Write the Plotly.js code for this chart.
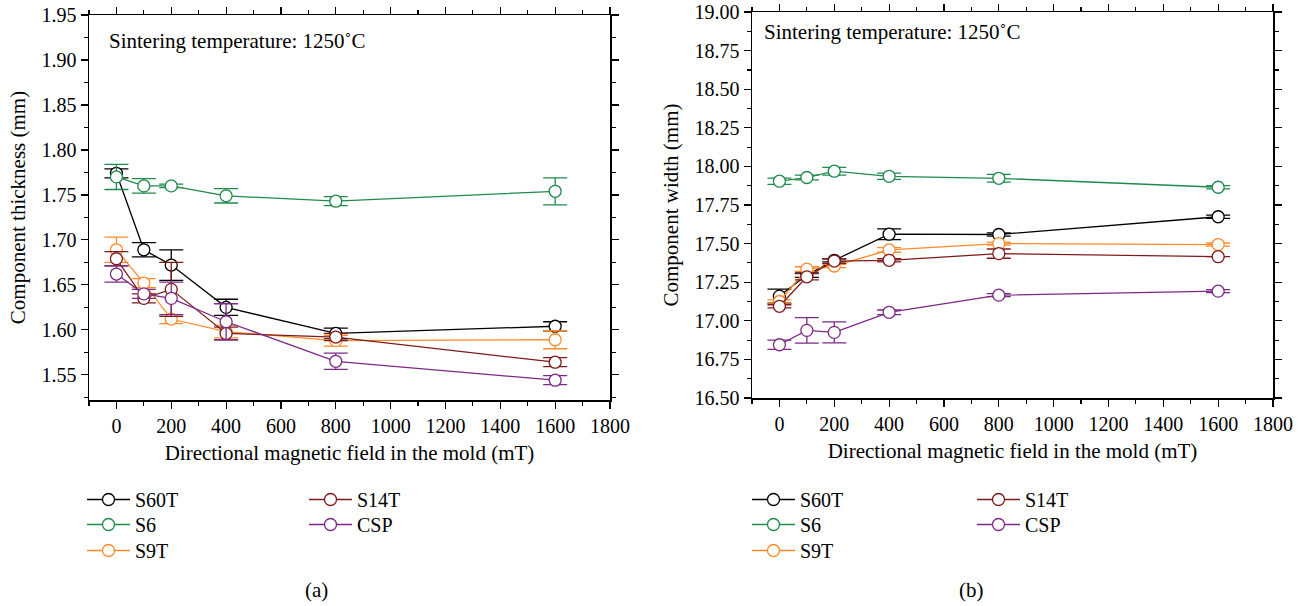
<!DOCTYPE html>
<html>
<head>
<meta charset="utf-8">
<script src="https://cdn.plot.ly/plotly-3.0.1.min.js"></script>
<style>html,body{margin:0;padding:0;background:#fff;}#chart{width:1306px;height:606px;}</style>
</head>
<body>
<div id="chart"></div>
<script>
// ---- data ----
const fieldMT = [0, 100, 200, 400, 800, 1600];
const seriesNames = ['S60T', 'S6', 'S9T', 'S14T', 'CSP'];

// (a) component thickness (mm)
const thickS60T = [1.774, 1.689, 1.672, 1.625, 1.596, 1.604];
const thickS60TErr = [0.005, 0.008, 0.017, 0.009, 0.006, 0.005];
const thickS6 = [1.770, 1.760, 1.760, 1.749, 1.743, 1.754];
const thickS6Err = [0.014, 0.008, 0.002, 0.008, 0.005, 0.015];
const thickS9T = [1.689, 1.652, 1.612, 1.598, 1.588, 1.589];
const thickS9TErr = [0.014, 0.005, 0.005, 0.007, 0.006, 0.010];
const thickS14T = [1.679, 1.635, 1.645, 1.596, 1.592, 1.564];
const thickS14TErr = [0.008, 0.005, 0.030, 0.007, 0.004, 0.005];
const thickCSP = [1.662, 1.640, 1.635, 1.609, 1.565, 1.544];
const thickCSPErr = [0.009, 0.005, 0.018, 0.020, 0.009, 0.005];

// (b) component width (mm)
const widthS60T = [17.160, 17.296, 17.392, 17.561, 17.559, 17.674];
const widthS60TErr = [0.045, 0.015, 0.010, 0.035, 0.010, 0.010];
const widthS6 = [17.904, 17.928, 17.969, 17.936, 17.923, 17.865];
const widthS6Err = [0.020, 0.015, 0.025, 0.020, 0.025, 0.010];
const widthS9T = [17.125, 17.335, 17.355, 17.459, 17.500, 17.494];
const widthS9TErr = [0.010, 0.015, 0.010, 0.015, 0.010, 0.010];
const widthS14T = [17.094, 17.285, 17.387, 17.392, 17.435, 17.415];
const widthS14TErr = [0.010, 0.020, 0.015, 0.010, 0.030, 0.000];
const widthCSP = [16.845, 16.938, 16.925, 17.055, 17.166, 17.192];
const widthCSPErr = [0.030, 0.083, 0.068, 0.015, 0.010, 0.010];

const annotationText = 'Sintering temperature: 1250˚C';
const xTitle = 'Directional magnetic field in the mold (mT)';
const yTitleA = 'Component thickness (mm)';
const yTitleB = 'Component width (mm)';

// ---- styling ----
const colors = ['#000000', '#1f8a4c', '#ff8a2a', '#7f1a1a', '#7b2a84'];
const FONT = 'Liberation Serif, Times New Roman, serif';
const W = 1306, H = 606;

const thickVals = [thickS60T, thickS6, thickS9T, thickS14T, thickCSP];
const thickErrs = [thickS60TErr, thickS6Err, thickS9TErr, thickS14TErr, thickCSPErr];
const widthVals = [widthS60T, widthS6, widthS9T, widthS14T, widthCSP];
const widthErrs = [widthS60TErr, widthS6Err, widthS9TErr, widthS14TErr, widthCSPErr];

// legend slot positions (px): column offset, row top
const legCol = [0, 0, 0, 1, 1];
const legRow = [0, 1, 2, 0, 1];
const rowTops = [480, 505, 531];

function mkTrace(name, i, ys, errs, xa, ya, legend) {
  return {
    type: 'scatter', mode: 'lines+markers', name: name,
    x: fieldMT, y: ys, xaxis: xa, yaxis: ya, legend: legend,
    line: {color: colors[i], width: 1.3},
    marker: {symbol: 'circle', size: 12, color: '#ffffff', line: {color: colors[i], width: 1.3}},
    error_y: {type: 'data', array: errs, visible: true, color: colors[i], thickness: 1.3, width: 12},
    cliponaxis: false
  };
}

function legendCfg(xpx, ypx) {
  return {
    x: xpx / W, y: 1 - ypx / H, xanchor: 'left', yanchor: 'top',
    font: {family: FONT, size: 20, color: '#000'},
    bgcolor: 'rgba(0,0,0,0)', borderwidth: 0, tracegroupgap: 0, itemwidth: 43
  };
}

const traces = [];
const legends = {};
const colXA = [82, 304];
const colXB = [747, 972];
seriesNames.forEach((n, i) => {
  const key = i === 0 ? 'legend' : 'legend' + (i + 1);
  legends[key] = legendCfg(colXA[legCol[i]], rowTops[legRow[i]]);
  traces.push(mkTrace(n, i, thickVals[i], thickErrs[i], 'x', 'y', key));
});
seriesNames.forEach((n, i) => {
  const key = 'legend' + (i + 6);
  legends[key] = legendCfg(colXB[legCol[i]], rowTops[legRow[i]]);
  traces.push(mkTrace(n, i, widthVals[i], widthErrs[i], 'x2', 'y2', key));
});

function xaxisCfg(domain, anchor) {
  return {
    domain: domain, anchor: anchor, range: [-100, 1800], tick0: 0, dtick: 200,
    ticks: 'outside', ticklen: 7, tickwidth: 1.2, tickcolor: '#000',
    minor: {ticks: 'outside', dtick: 100, ticklen: 4, tickcolor: '#000', tickwidth: 1.2},
    showline: true, linecolor: '#000', linewidth: 1.5, mirror: 'ticks',
    showgrid: false, zeroline: false,
    tickfont: {family: FONT, size: 20, color: '#000'},
    title: {text: xTitle, font: {family: FONT, size: 21, color: '#000'}, standoff: 10}
  };
}
function yaxisCfg(domain, anchor, range, dtick, minorD, ttl) {
  return {
    domain: domain, anchor: anchor, range: range, dtick: dtick, tick0: 0, tickformat: '.2f',
    ticks: 'outside', ticklen: 7, tickwidth: 1.2, tickcolor: '#000',
    minor: {ticks: 'outside', dtick: minorD, ticklen: 4, tickcolor: '#000', tickwidth: 1.2},
    showline: true, linecolor: '#000', linewidth: 1.5, mirror: 'ticks',
    showgrid: false, zeroline: false,
    tickfont: {family: FONT, size: 20, color: '#000'},
    title: {text: ttl, font: {family: FONT, size: 21, color: '#000'}, standoff: 10}
  };
}

const layout = Object.assign({
  width: W, height: H,
  margin: {l: 0, r: 0, t: 0, b: 0},
  paper_bgcolor: '#fff', plot_bgcolor: '#fff',
  showlegend: true,
  xaxis: xaxisCfg([89 / W, 610 / W], 'y'),
  yaxis: yaxisCfg([1 - 400 / H, 1 - 15 / H], 'x', [1.522, 1.95], 0.05, 0.025, yTitleA),
  xaxis2: xaxisCfg([752 / W, 1273 / W], 'y2'),
  yaxis2: yaxisCfg([1 - 398 / H, 1 - 12 / H], 'x2', [16.5, 19.0], 0.25, 0.125, yTitleB),
  annotations: [
    {xref: 'paper', yref: 'paper', x: 107 / W, y: 1 - 41 / H, xanchor: 'left', yanchor: 'middle',
     text: annotationText, showarrow: false, font: {family: FONT, size: 21, color: '#000'}},
    {xref: 'paper', yref: 'paper', x: 762 / W, y: 1 - 32 / H, xanchor: 'left', yanchor: 'middle',
     text: annotationText, showarrow: false, font: {family: FONT, size: 21, color: '#000'}},
    {xref: 'paper', yref: 'paper', x: 316 / W, y: 1 - 590 / H, xanchor: 'center', yanchor: 'middle',
     text: '(a)', showarrow: false, font: {family: FONT, size: 21, color: '#000'}},
    {xref: 'paper', yref: 'paper', x: 971 / W, y: 1 - 590 / H, xanchor: 'center', yanchor: 'middle',
     text: '(b)', showarrow: false, font: {family: FONT, size: 21, color: '#000'}}
  ]
}, legends);

Plotly.newPlot('chart', traces, layout, {displayModeBar: false, staticPlot: true});
</script>
</body>
</html>
